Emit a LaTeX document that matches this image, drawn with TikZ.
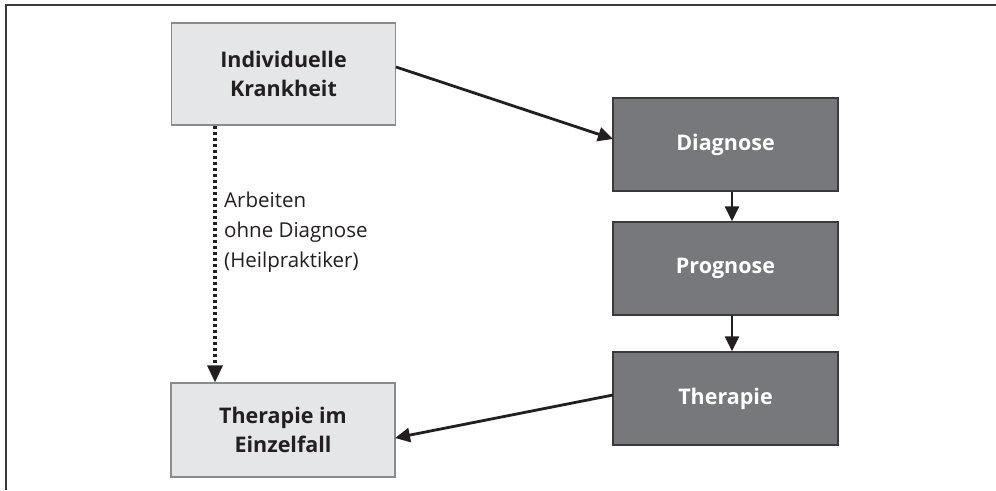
\documentclass[tikz,border=0pt]{standalone}
\usepackage{fontspec}
\setmainfont{Open Sans}
\usetikzlibrary{arrows.meta}
\definecolor{lightbox}{HTML}{E5E6E7}
\definecolor{lightborder}{HTML}{8A8B8D}
\definecolor{darkbox}{HTML}{77787B}
\definecolor{darkborder}{HTML}{3A3A3C}
\definecolor{textdark}{HTML}{231F20}
\tikzset{
  lightnode/.style={draw=lightborder, line width=1.2pt, fill=lightbox, minimum width=224pt, minimum height=102pt,
    inner sep=0pt, align=center, font=\fontsize{21.5}{29}\selectfont\bfseries, text=textdark},
  darknode/.style={draw=darkborder, line width=1.2pt, fill=darkbox, minimum width=225pt, minimum height=93pt,
    inner sep=0pt, align=center, font=\fontsize{21.5}{29}\selectfont\bfseries, text=white},
  conn/.style={line width=2.8pt, draw=textdark, -{Triangle[length=15pt,width=14pt]}},
  dotconn/.style={line width=3.4pt, draw=textdark, dash pattern=on 3pt off 3pt, -{Triangle[length=17pt,width=15pt]}},
  lbl/.style={font=\fontsize{20.5}{30}\selectfont, text=textdark, align=left, inner sep=0pt, anchor=north west}
}
\begin{document}
\begin{tikzpicture}[x=1pt,y=-1pt]
\useasboundingbox (0,0) rectangle (996,490);
\draw[line width=1.6pt, draw=darkborder] (6,490) -- (6,5) -- (996,5);
\node[lightnode, minimum height=102pt] (ik) at (283.5,74) {Individuelle\\Krankheit};
\node[lightnode, minimum height=94pt] (tie) at (283,430) {Therapie im\\Einzelfall};
\node[darknode] (dia) at (725.5,144.5) {Diagnose};
\node[darknode] (pro) at (725.5,268.5) {Prognose};
\node[darknode] (the) at (725.5,398.5) {Therapie};
\coordinate (ikr) at (396,67);
\coordinate (diar) at (613,139);
\draw[conn] (ikr) -- (diar);
\draw[conn] (dia.south -| 732,0) -- (pro.north -| 732,0);
\draw[conn] (pro.south -| 732,0) -- (the.north -| 732,0);
\coordinate (ther) at (613,395);
\coordinate (tier) at (395,438);
\draw[conn] (ther) -- (tier);
\draw[dotconn] (ik.south -| 215,0) -- (tie.north -| 215,0);
\node[lbl] (lab) at (224,192) {Arbeiten\\ohne Diagnose\\(Heilpraktiker)};
\end{tikzpicture}
\end{document}
